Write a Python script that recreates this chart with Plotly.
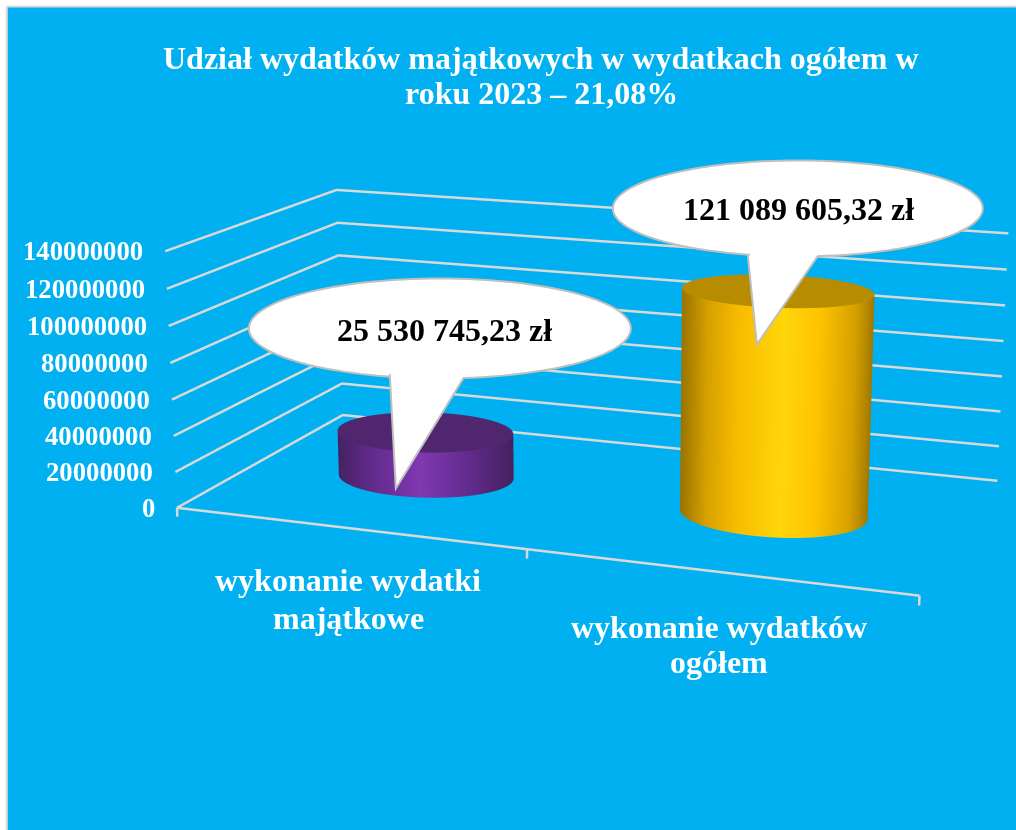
import numpy as np
import plotly.graph_objects as go

category_lines = [["wykonanie wydatki", "majątkowe"], ["wykonanie wydatków", "ogółem"]]
values = [25530745.23, 121089605.32]
value_labels = ["25 530 745,23 zł", "121 089 605,32 zł"]
z_ticks = [0, 20000000, 40000000, 60000000, 80000000, 100000000, 120000000, 140000000]
title_lines = ["Udział wydatków majątkowych w wydatkach ogółem w", "roku 2023 – 21,08%"]

W, H = 1016, 830
ZLO, ZHI = -8e6, 150e6

# Camera read off the reference's vanishing points; Plotly's field of view is fixed,
# so the scene is rendered larger than the window and positioned behind it.
ASPECT_Y, ASPECT_Z = 0.4971, 0.3914
EYE = dict(x=1.0313, y=-2.8172, z=0.7551)
UP = dict(x=0.0016, y=-0.0029, z=1)
FOCAL, PPX, PPY = 2317.5286, 595.1653, 367.5385
FH = int(round(2 * FOCAL / 2.41421356))
FW = int(2 * max(PPX, W - PPX)) + 2
LEFT = PPX - FW / 2
TOP = PPY - FH / 2

GOLD = [[0, "#9C7500"], [.12, "#D6A000"], [.28, "#F7BC00"], [.5, "#FFD60A"], [.68, "#FFC400"], [.88, "#D6A000"], [1, "#9C7500"]]
PURP = [[0, "#45215F"], [.25, "#642C90"], [.5, "#8038B2"], [.75, "#642C90"], [1, "#45215F"]]
CAPS = ["#50266E", "#B88C00"]
RX, RY = .25, .2
LIGHT = dict(ambient=1, diffuse=0, specular=0, fresnel=0, roughness=1)
th = np.linspace(0, 2 * np.pi, 361)
# shade by horizontal position on screen, not by data x
az = np.arctan2(EYE["x"], -EYE["y"])
A, B = RX * .5 * np.cos(az), RY * ASPECT_Y * np.sin(az)
shade = (A * np.cos(th) + B * np.sin(th)) / np.hypot(A, B)

fig = go.Figure()
for i, (v, cs, cap) in enumerate(zip(values, [PURP, GOLD], CAPS)):
    c = i + .5
    X = np.vstack([c + RX * np.cos(th)] * 2)
    Y = np.vstack([.5 + RY * np.sin(th)] * 2)
    Z = np.vstack([np.zeros_like(th), np.full_like(th, v)])
    fig.add_surface(x=X, y=Y, z=Z, surfacecolor=np.vstack([shade] * 2), colorscale=cs, cmin=-1, cmax=1,
                    showscale=False, lighting=LIGHT, hoverinfo="skip")
    rr = np.array([0, 1.0])
    X2 = c + RX * np.outer(rr, np.cos(th))
    Y2 = .5 + RY * np.outer(rr, np.sin(th))
    Z2 = np.full_like(X2, v)
    fig.add_surface(x=X2, y=Y2, z=Z2, surfacecolor=np.zeros_like(X2), colorscale=[[0, cap], [1, cap]], cmin=0, cmax=1,
                    showscale=False, lighting=LIGHT, hoverinfo="skip")

GRID = dict(color="#D9D9D9", width=5)
for t in z_ticks:
    fig.add_scatter3d(x=[0, 0, 2], y=[0, 1, 1], z=[t, t, t], mode="lines", line=GRID, hoverinfo="skip", showlegend=False)
fig.add_scatter3d(x=[0, 2], y=[0, 0], z=[0, 0], mode="lines", line=GRID, hoverinfo="skip", showlegend=False)
for x in [0, 1, 2]:
    fig.add_scatter3d(x=[x, x], y=[0, 0], z=[0, -5e6], mode="lines", line=GRID, hoverinfo="skip", showlegend=False)


def ax():
    return dict(visible=False, showgrid=False, zeroline=False, showbackground=False, showspikes=False)


annos = []
for t in z_ticks:
    annos.append(dict(x=0, y=0, z=t, text="<b>%d</b>" % t, showarrow=False, xanchor="right", xshift=-20,
                      font=dict(family="Liberation Serif", size=26.7, color="white")))
CAT_SHIFT = [[-52, -90], [-55, -90]]
CAT_X = [[1, 1], [2, 2]]
for i, lines in enumerate(category_lines):
    for j, l in enumerate(lines):
        annos.append(dict(x=i + .5, y=0, z=0, text="<b>%s</b>" % l, showarrow=False,
                          yshift=CAT_SHIFT[i][j], xshift=CAT_X[i][j],
                          font=dict(family="Liberation Serif", size=32, color="white")))


def px(x, y):
    return (x - LEFT) / FW, 1 - (y - TOP) / FH


def callout(cx_, cy_, rx, ry, b0, b1, tip):
    a0 = np.arctan2((b1[1] - cy_) / ry, (b1[0] - cx_) / rx)
    a1 = np.arctan2((b0[1] - cy_) / ry, (b0[0] - cx_) / rx)
    an = np.linspace(a0, a1 - 2 * np.pi if a1 > a0 else a1, 120)
    pts = [(cx_ + rx * np.cos(a), cy_ + ry * np.sin(a)) for a in an] + [b0, tip]
    return "M" + " L".join("%.5f,%.5f" % px(*q) for q in pts) + " Z"


def rect(x0, y0, x1, y1):
    a, b = px(x0, y0)
    c_, d = px(x1, y1)
    return dict(type="rect", xref="paper", yref="paper", x0=a, x1=c_, y0=d, y1=b, fillcolor="white", line_width=0)


EDGE = dict(color="#BFBFBF", width=2)
shapes = [dict(type="path", xref="paper", yref="paper", path=callout(440, 328, 191, 50, (390, 375), (463, 376), (396, 488)), fillcolor="white", line=EDGE),
          dict(type="path", xref="paper", yref="paper", path=callout(798, 208, 185, 48, (748, 255), (818, 256), (757, 344)), fillcolor="white", line=EDGE),
          rect(-5, -5, 7, 835), rect(-5, -5, 1021, 6)]
a, b = px(7, 6)
_, d = px(7, 830)
e_, _ = px(1016, 6)
shapes += [dict(type="line", xref="paper", yref="paper", x0=a, x1=a, y0=d, y1=b, line=dict(color="#D9D9D9", width=2)),
           dict(type="line", xref="paper", yref="paper", x0=a, x1=e_, y0=b, y1=b, line=dict(color="#D9D9D9", width=2))]


def T(x, y, text, color, size=32):
    u, v = px(x, y)
    return dict(xref="paper", yref="paper", x=u, y=v, yanchor="middle", xanchor="center", text="<b>%s</b>" % text,
                showarrow=False, font=dict(family="Liberation Serif", size=size, color=color))


page = [T(541, 58, title_lines[0], "white"), T(542, 93, title_lines[1], "white"),
        T(445, 330, value_labels[0], "black"), T(799, 209, value_labels[1], "black")]
fig.update_layout(width=FW, height=FH, margin=dict(l=0, r=0, t=0, b=0), paper_bgcolor="rgba(0,0,0,0)", showlegend=False,
                  shapes=shapes, annotations=page,
                  scene=dict(domain=dict(x=[0, 1], y=[0, 1]), bgcolor="#00B0F0",
                             xaxis={**ax(), "range": [0, 2]}, yaxis={**ax(), "range": [0, 1]}, zaxis={**ax(), "range": [ZLO, ZHI]},
                             aspectmode="manual", aspectratio=dict(x=1, y=ASPECT_Y, z=ASPECT_Z),
                             camera=dict(eye=EYE, center=dict(x=0, y=0, z=0), up=UP, projection=dict(type="perspective")),
                             annotations=annos))
css = ("html,body{margin:0;padding:0;overflow:hidden;background:#fff;width:1016px;height:830px} "
       ".plotly-graph-div{position:absolute!important;left:%.1fpx;top:%.1fpx} .gl-container{z-index:1} "
       ".svg-container>.main-svg:first-child{z-index:2} .svg-container>.main-svg:not(:first-child){z-index:3}" % (LEFT, TOP))
post = "var s=document.createElement('style');s.textContent=%r;document.head.appendChild(s);" % css
fig.write_html("out.html", post_script=post, config=dict(displayModeBar=False), default_width="%dpx" % FW, default_height="%dpx" % FH)
